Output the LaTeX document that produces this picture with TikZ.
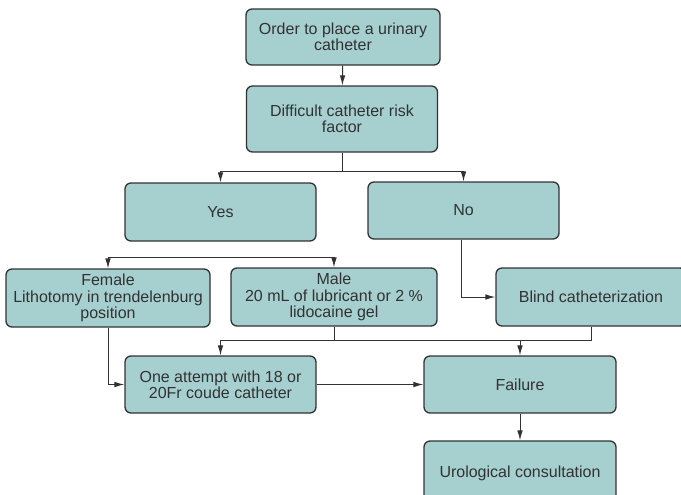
\documentclass[tikz,border=0pt]{standalone}
\usepackage{fontspec}
\setmainfont{Liberation Sans}
\usepackage{tikz}
\usetikzlibrary{shapes, arrows.meta, positioning}
\definecolor{verdeagua}{RGB}{166,207,208}
\definecolor{borde}{RGB}{50,50,50}
\tikzstyle{caja} = [draw=borde, fill=verdeagua, text=borde, line width=0.65pt, rectangle, rounded corners=3pt, align=center, inner sep=2pt, font=\fontsize{8}{8.2}\selectfont]
\tikzstyle{flecha} = [draw=borde, line width=0.5pt, -{Latex[length=5pt,width=2.8pt]}]
\tikzstyle{linea} = [draw=borde, line width=0.5pt]

\begin{document}
\begin{tikzpicture}[x=0.5pt, y=-0.5pt]
	\useasboundingbox (0,0) rectangle (681,494);
	\node [caja, minimum width=97pt, minimum height=28pt] (orden) at (343,37) {Order to place a urinary\\catheter};
	\node [caja, minimum width=95.5pt, minimum height=33pt] (dificil) at (342,119) {Difficult catheter risk\\factor};
	\node [caja, minimum width=95.5pt, minimum height=29pt] (si) at (220.5,212) {Yes};
	\node [caja, minimum width=95.5pt, minimum height=28.5pt] (no) at (463.5,210.5) {No};
	\node [caja, minimum width=102pt, minimum height=29pt] (mujer) at (108,298) {Female\\Lithotomy in trendelenburg\\position};
	\node [caja, minimum width=103pt, minimum height=29pt] (hombre) at (334,297) {Male\\20 mL of lubricant or 2 \%\\lidocaine gel};
	\node [caja, minimum width=95pt, minimum height=29pt] (ciega) at (591,297) {Blind catheterization};
	\node [caja, minimum width=95.5pt, minimum height=28.5pt] (intento) at (220.5,384.5) {One attempt with 18 or\\20Fr coude catheter};
	\node [caja, minimum width=96pt, minimum height=28.5pt] (fallo) at (520,384.5) {Failure};
	\node [caja, minimum width=96pt, minimum height=32pt] (urologia) at (520,473) {Urological consultation};
	% conectores
	\coordinate (ramaSi) at (221,257);
	\coordinate (union) at (334,340);
	\draw [flecha] (orden) -- (dificil);
	\draw [flecha] (dificil.south) -- ++(0,19) -| (si.north);
	\draw [flecha] (dificil.south) -- ++(0,19) -| (no.north);
	\draw [flecha] (ramaSi) -| (mujer.north);
	\draw [flecha] (ramaSi) -| (hombre.north);
	\draw [flecha] ([xshift=-1pt]no.south) |- (ciega.west);
	\draw [linea] (hombre.south) -- (union);
	\draw [linea] (ciega.south) |- (union);
	\draw [flecha] (union) -| (intento.north);
	\draw [flecha] (union) -| (fallo.north);
	\draw [flecha] (mujer.south) |- (intento.west);
	\draw [flecha] (intento) -- (fallo);
	\draw [flecha] (fallo) -- (urologia);
\end{tikzpicture}
\end{document}
